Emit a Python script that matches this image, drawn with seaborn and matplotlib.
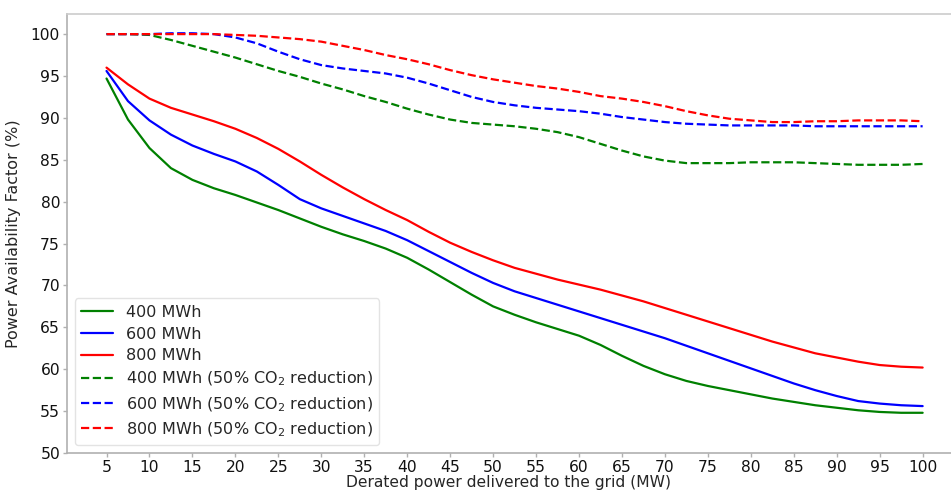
import matplotlib
matplotlib.use("Agg")
import matplotlib.pyplot as plt
import seaborn as sns
import pandas as pd

x_mw = [5, 7.5, 10, 12.5, 15, 17.5, 20, 22.5, 25, 27.5, 30, 32.5, 35, 37.5, 40,
        42.5, 45, 47.5, 50, 52.5, 55, 57.5, 60, 62.5, 65, 67.5, 70, 72.5, 75,
        77.5, 80, 82.5, 85, 87.5, 90, 92.5, 95, 97.5, 100]

g400 = [94.7, 89.8, 86.4, 84.0, 82.6, 81.6, 80.8, 79.9, 79.0, 78.0, 77.0, 76.1, 75.3, 74.4, 73.3,
        71.9, 70.4, 68.9, 67.5, 66.5, 65.6, 64.8, 64.0, 62.9, 61.6, 60.4, 59.4, 58.6, 58.0,
        57.5, 57.0, 56.5, 56.1, 55.7, 55.4, 55.1, 54.9, 54.8, 54.8]
b600 = [95.6, 92.0, 89.7, 88.0, 86.7, 85.7, 84.8, 83.6, 82.0, 80.3, 79.2, 78.3, 77.4, 76.5, 75.4,
        74.1, 72.8, 71.5, 70.3, 69.3, 68.5, 67.7, 66.9, 66.1, 65.3, 64.5, 63.7, 62.8, 61.9,
        61.0, 60.1, 59.2, 58.3, 57.5, 56.8, 56.2, 55.9, 55.7, 55.6]
r800 = [96.0, 94.0, 92.3, 91.2, 90.4, 89.6, 88.7, 87.6, 86.3, 84.8, 83.2, 81.7, 80.3, 79.0, 77.8,
        76.4, 75.1, 74.0, 73.0, 72.1, 71.4, 70.7, 70.1, 69.5, 68.8, 68.1, 67.3, 66.5, 65.7,
        64.9, 64.1, 63.3, 62.6, 61.9, 61.4, 60.9, 60.5, 60.3, 60.2]
g400_co2 = [100.0, 100.0, 99.9, 99.3, 98.6, 97.9, 97.2, 96.4, 95.6, 94.9, 94.1, 93.4, 92.6, 91.9, 91.1,
            90.4, 89.8, 89.4, 89.2, 89.0, 88.7, 88.3, 87.7, 86.9, 86.1, 85.4, 84.9, 84.6, 84.6,
            84.6, 84.7, 84.7, 84.7, 84.6, 84.5, 84.4, 84.4, 84.4, 84.5]
b600_co2 = [100.0, 100.0, 100.0, 100.1, 100.1, 100.0, 99.6, 98.9, 97.9, 97.0, 96.3, 95.9, 95.6, 95.3, 94.8,
            94.1, 93.3, 92.5, 91.9, 91.5, 91.2, 91.0, 90.8, 90.5, 90.1, 89.8, 89.5, 89.3, 89.2,
            89.1, 89.1, 89.1, 89.1, 89.0, 89.0, 89.0, 89.0, 89.0, 89.0]
r800_co2 = [100.0, 100.0, 100.0, 100.0, 100.0, 100.0, 99.9, 99.8, 99.6, 99.4, 99.1, 98.6, 98.1, 97.5, 97.0,
            96.4, 95.7, 95.1, 94.6, 94.2, 93.8, 93.5, 93.1, 92.6, 92.3, 91.9, 91.4, 90.8, 90.3,
            89.9, 89.7, 89.5, 89.5, 89.6, 89.6, 89.7, 89.7, 89.7, 89.6]

labels = ["400 MWh", "600 MWh", "800 MWh",
          "400 MWh (50% CO$_2$ reduction)",
          "600 MWh (50% CO$_2$ reduction)",
          "800 MWh (50% CO$_2$ reduction)"]
series = [g400, b600, r800, g400_co2, b600_co2, r800_co2]
colors = ["green", "blue", "red", "green", "blue", "red"]
styles = ["-", "-", "-", "--", "--", "--"]

xticks = list(range(5, 105, 5))
yticks = list(range(50, 105, 5))

sns.set_style("white")
plt.rcParams['font.family'] = ['DejaVu Sans']

fig = plt.figure(figsize=(9.51, 4.95), dpi=100)
ax = fig.add_axes([67 / 951, 1 - 453 / 495, 1 - 67 / 951, (453 - 14) / 495])

for lab, vals, c, ls in zip(labels, series, colors, styles):
    df = pd.DataFrame({"x": x_mw, "y": vals})
    sns.lineplot(data=df, x="x", y="y", ax=ax, color=c, linestyle=ls,
                 linewidth=1.6, label=lab)

ax.set_xlim(0.4, 103.3)
ax.set_ylim(50, 102.4)
ax.set_xticks(xticks)
ax.set_yticks(yticks)
ax.tick_params(axis="both", labelsize=11.2, length=3, width=1.0,
               color="#b0b0b0", labelcolor="#111111", direction="out",
               bottom=True, left=True, pad=2)
for s in ["left", "bottom"]:
    ax.spines[s].set_color("#b0b0b0")
    ax.spines[s].set_linewidth(1.2)
ax.spines["top"].set_color("#cccccc")
ax.spines["top"].set_linewidth(1.2)
ax.spines["right"].set_visible(False)

ax.set_xlabel("Derated power delivered to the grid (MW)", fontsize=11.2, labelpad=0)
ax.set_ylabel("Power Availability Factor (%)", fontsize=11.5, labelpad=7)

leg = ax.legend(loc="lower left", fontsize=11.5, frameon=True, framealpha=0.8,
                borderaxespad=0.5, handlelength=2.0, labelspacing=0.42)
leg.get_frame().set_edgecolor("#dddddd")

fig.savefig("out.png", dpi=100)
